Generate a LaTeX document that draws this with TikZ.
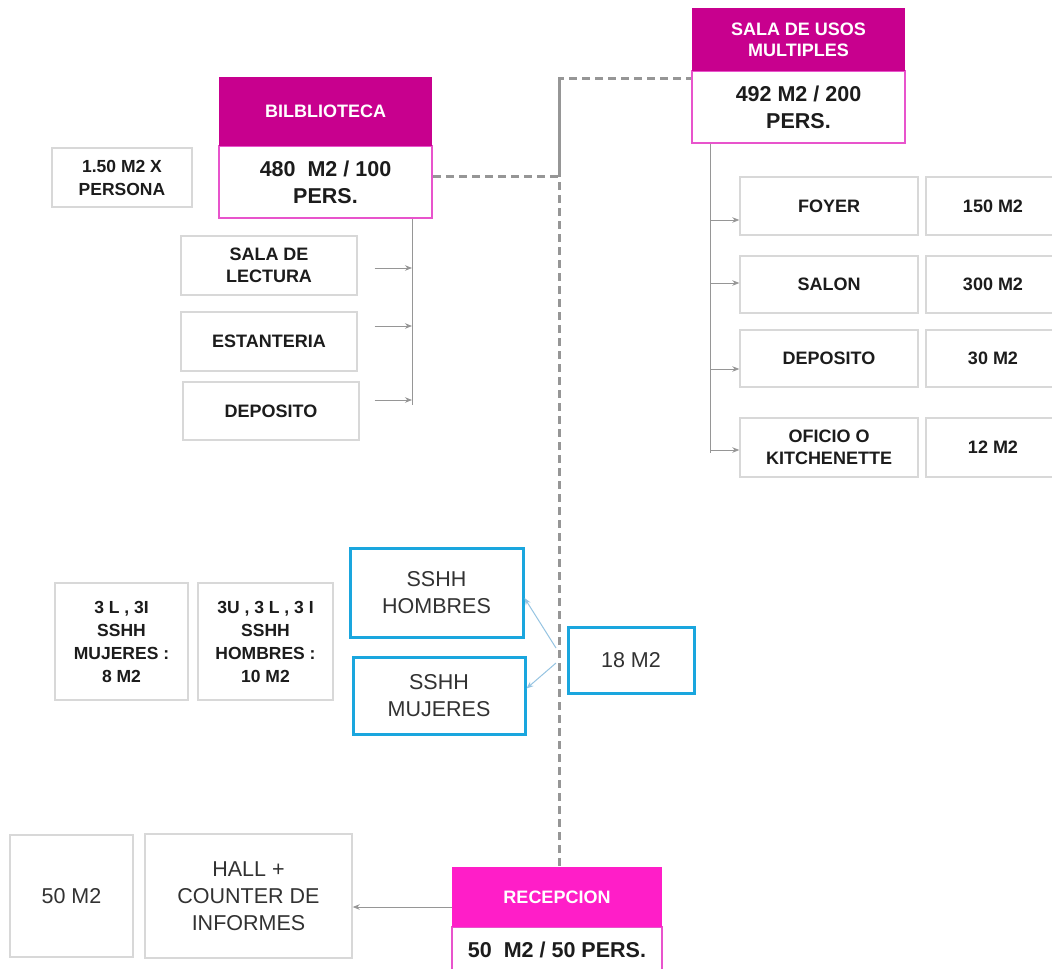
\documentclass[tikz,border=0pt]{standalone}
\usepackage{fontspec}
\setmainfont{Liberation Sans}
\usetikzlibrary{arrows.meta}

\definecolor{magdark}{RGB}{200,0,142}
\definecolor{magbright}{RGB}{255,30,200}
\definecolor{pinkline}{RGB}{232,84,204}
\definecolor{boxline}{RGB}{216,216,216}
\definecolor{cyanline}{RGB}{26,166,222}
\definecolor{dashgray}{RGB}{150,150,150}
\definecolor{arrowgray}{RGB}{150,150,150}
\definecolor{bluearrow}{RGB}{150,196,226}
\definecolor{txt}{RGB}{28,28,28}
\definecolor{txtreg}{RGB}{50,50,50}

\tikzset{
  box/.style={draw=boxline, line width=1.4pt, fill=white, inner sep=0pt,
    align=center, text=txt, font=\fontsize{18}{22}\selectfont\bfseries},
  smallbox/.style={box, font=\fontsize{17.5}{23}\selectfont\bfseries},
  plainbox/.style={box, text=txtreg, font=\fontsize{21.5}{27}\selectfont},
  header/.style={fill=magdark, draw=none, inner sep=0pt, align=center,
    text=white, font=\fontsize{18}{21}\selectfont\bfseries},
  headerbright/.style={header, fill=magbright},
  bodybox/.style={draw=pinkline, line width=2pt, fill=white, inner sep=0pt,
    align=center, text=txt, font=\fontsize{21.5}{27}\selectfont\bfseries},
  cyanbox/.style={draw=cyanline, line width=3pt, fill=white, inner sep=0pt,
    align=center, text=txtreg, font=\fontsize{21.5}{27}\selectfont},
  trunk/.style={draw=arrowgray, line width=0.9pt},
  arr/.style={draw=arrowgray, line width=0.8pt, -{Stealth[length=7pt,width=5.5pt]}},
  blarr/.style={draw=bluearrow, line width=1pt, -{Stealth[length=7pt,width=5.5pt]}},
  dashline/.style={draw=dashgray, line width=3pt, dash pattern=on 8pt off 5pt}
}

\begin{document}
\begin{tikzpicture}[x=1pt,y=-1pt]
\useasboundingbox (0,0) rectangle (1052,969);
\fill[white] (0,0) rectangle (1052,969);

% ---------- Biblioteca ----------
\node[bodybox, minimum width=213pt, minimum height=72pt] (bibbody) at (325.5,182) {480\ \ M2 / 100\\PERS.};
\node[header, minimum width=213pt, minimum height=69pt] (bibhead) at (325.5,111.5) {BILBLIOTECA};
\node[smallbox, minimum width=140pt, minimum height=59pt] (persona) at (122,177.5) {1.50 M2 X\\PERSONA};
\node[box, minimum width=176pt, minimum height=59pt] (lectura) at (269,265.5) {SALA DE\\LECTURA};
\node[box, minimum width=176pt, minimum height=59pt] (estanteria) at (269,341.5) {ESTANTERIA};
\node[box, minimum width=176pt, minimum height=58pt] (bibdep) at (271,411) {DEPOSITO};

\coordinate (bibtrunk) at (412,405);
\draw[trunk] (bibtrunk |- bibbody.south) -- (bibtrunk);
\coordinate (b1) at ([xshift=17pt,yshift=-2.5pt]lectura.east);
\coordinate (b2) at ([xshift=17pt,yshift=15.5pt]estanteria.east);
\coordinate (b3) at ([xshift=15pt,yshift=11pt]bibdep.east);
\draw[arr] (b1) -- (b1 -| bibtrunk);
\draw[arr] (b2) -- (b2 -| bibtrunk);
\draw[arr] (b3) -- (b3 -| bibtrunk);

% ---------- Sala de usos multiples ----------
\node[bodybox, minimum width=213pt, minimum height=72pt] (salabody) at (798.5,107) {492 M2 / 200\\PERS.};
\node[header, minimum width=213pt, minimum height=63pt] (salahead) at (798.5,39.5) {SALA DE USOS\\MULTIPLES};

\node[box, minimum width=178pt, minimum height=58pt] (foyer) at (829,206) {FOYER};
\node[box, minimum width=134pt, minimum height=58pt] (m150) at (993,206) {150 M2};
\node[box, minimum width=178pt, minimum height=57pt] (salon) at (829,284.5) {SALON};
\node[box, minimum width=134pt, minimum height=57pt] (m300) at (993,284.5) {300 M2};
\node[box, minimum width=178pt, minimum height=57pt] (saladep) at (829,358.5) {DEPOSITO};
\node[box, minimum width=134pt, minimum height=57pt] (m30) at (993,358.5) {30 M2};
\node[box, minimum width=178pt, minimum height=59pt] (oficio) at (829,447.5) {OFICIO O\\KITCHENETTE};
\node[box, minimum width=134pt, minimum height=59pt] (m12) at (993,447.5) {12 M2};

\coordinate (salatrunk) at (710,453);
\draw[trunk] (salatrunk |- salabody.south) -- (salatrunk);
\coordinate (s1) at ([yshift=-14pt]foyer.west);
\coordinate (s2) at ([yshift=1.5pt]salon.west);
\coordinate (s3) at ([yshift=-10.5pt]saladep.west);
\coordinate (s4) at ([yshift=-2.5pt]oficio.west);
\draw[arr] (s1 -| salatrunk) -- (s1);
\draw[arr] (s2 -| salatrunk) -- (s2);
\draw[arr] (s3 -| salatrunk) -- (s3);
\draw[arr] (s4 -| salatrunk) -- (s4);

% ---------- Servicios higienicos ----------
\node[cyanbox, minimum width=173pt, minimum height=89pt] (hombres) at (436.5,592.5) {SSHH\\HOMBRES};
\node[cyanbox, minimum width=172pt, minimum height=77pt] (mujeres) at (439,695.5) {SSHH\\MUJERES};
\node[cyanbox, minimum width=126pt, minimum height=66pt] (m18) at (631,660) {18 M2};
\node[smallbox, minimum width=133pt, minimum height=117pt] (reqmuj) at (121.5,641.5) {3 L , 3I\\SSHH\\MUJERES :\\8 M2};
\node[smallbox, minimum width=135pt, minimum height=117pt] (reqhom) at (265.5,641.5) {3U , 3 L , 3 I\\SSHH\\HOMBRES :\\10 M2};

% ---------- Recepcion ----------
\node[bodybox, minimum width=210pt, minimum height=46pt] (recbody) at (557,950) {50\ \ M2 / 50 PERS.};
\node[headerbright, minimum width=210pt, minimum height=60pt] (rechead) at (557,897) {RECEPCION};
\node[plainbox, minimum width=207pt, minimum height=124pt] (hall) at (248.5,896) {HALL +\\COUNTER DE\\INFORMES};
\node[plainbox, minimum width=123pt, minimum height=122pt] (m50) at (71.5,896) {50 M2};

\draw[arr] ([yshift=-10pt]rechead.west) -- ([yshift=-10pt]rechead.west -| hall.east);

% ---------- circulation spine ----------
\coordinate (spine) at (559,78);
\draw[dashline] ([yshift=6pt]bibbody.east) -| (spine) -- (spine -| salabody.west);
\draw[dashline] (spine) -- (spine |- rechead.north);

% toilets branch off the spine
\coordinate (fk1) at (556,648);
\coordinate (fk2) at (556,663);
\draw[blarr] (fk1) -- ([yshift=-5.5pt]hombres.east);
\draw[blarr] (fk2) -- ([yshift=7pt]mujeres.east);
\end{tikzpicture}
\end{document}
